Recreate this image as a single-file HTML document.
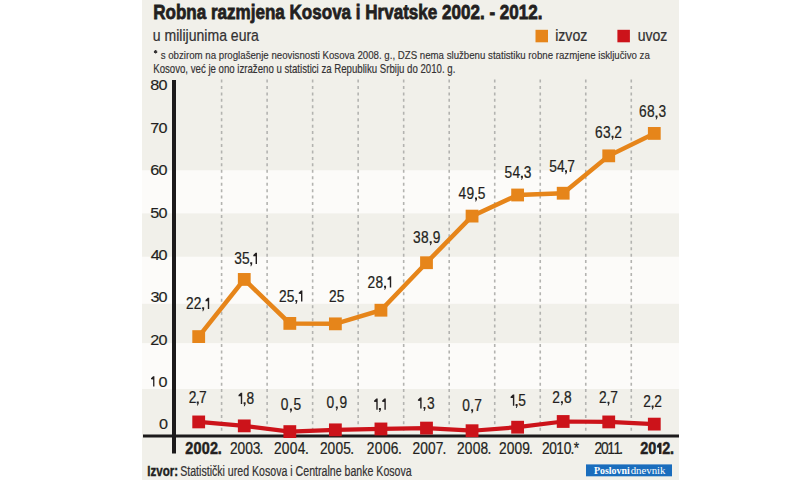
<!DOCTYPE html>
<html><head><meta charset="utf-8"><style>
html,body{margin:0;padding:0;background:#fff;width:800px;height:480px;overflow:hidden}
svg{display:block}
</style></head><body>
<svg width="800" height="480" viewBox="0 0 800 480">
<rect x="142" y="0" width="537" height="480" fill="#f1f0ea"/>
<rect x="142" y="170.3" width="537" height="43.1" fill="#fcfbf9"/>
<rect x="142" y="256.7" width="537" height="47.1" fill="#fcfbf9"/>
<rect x="142" y="343.1" width="537" height="45.9" fill="#fcfbf9"/>
<line x1="221.60" y1="79.5" x2="221.60" y2="434" stroke="#b3b3b0" stroke-width="1.6" stroke-dasharray="3 3.45"/>
<line x1="267.12" y1="79.5" x2="267.12" y2="434" stroke="#b3b3b0" stroke-width="1.6" stroke-dasharray="3 3.45"/>
<line x1="312.64" y1="79.5" x2="312.64" y2="434" stroke="#b3b3b0" stroke-width="1.6" stroke-dasharray="3 3.45"/>
<line x1="358.16" y1="79.5" x2="358.16" y2="434" stroke="#b3b3b0" stroke-width="1.6" stroke-dasharray="3 3.45"/>
<line x1="403.68" y1="79.5" x2="403.68" y2="434" stroke="#b3b3b0" stroke-width="1.6" stroke-dasharray="3 3.45"/>
<line x1="449.20" y1="79.5" x2="449.20" y2="434" stroke="#b3b3b0" stroke-width="1.6" stroke-dasharray="3 3.45"/>
<line x1="494.72" y1="79.5" x2="494.72" y2="434" stroke="#b3b3b0" stroke-width="1.6" stroke-dasharray="3 3.45"/>
<line x1="540.24" y1="79.5" x2="540.24" y2="434" stroke="#b3b3b0" stroke-width="1.6" stroke-dasharray="3 3.45"/>
<line x1="585.76" y1="79.5" x2="585.76" y2="434" stroke="#b3b3b0" stroke-width="1.6" stroke-dasharray="3 3.45"/>
<line x1="631.28" y1="79.5" x2="631.28" y2="434" stroke="#b3b3b0" stroke-width="1.6" stroke-dasharray="3 3.45"/>
<rect x="143" y="434.5" width="536" height="3" fill="#1c1a1b"/>
<rect x="172" y="80" width="4" height="373.5" fill="#1c1a1b"/>
<polyline points="198.70,336.60 244.26,279.43 289.82,323.41 335.38,323.85 380.94,310.22 426.50,262.72 472.06,216.10 517.62,194.99 563.18,193.23 608.74,155.85 654.30,133.42" fill="none" stroke="#e6851a" stroke-width="4.5" stroke-linejoin="miter"/>
<rect x="192.30" y="330.20" width="12.8" height="12.8" fill="#e6851a"/>
<rect x="237.86" y="273.03" width="12.8" height="12.8" fill="#e6851a"/>
<rect x="283.42" y="317.01" width="12.8" height="12.8" fill="#e6851a"/>
<rect x="328.98" y="317.45" width="12.8" height="12.8" fill="#e6851a"/>
<rect x="374.54" y="303.82" width="12.8" height="12.8" fill="#e6851a"/>
<rect x="420.10" y="256.32" width="12.8" height="12.8" fill="#e6851a"/>
<rect x="465.66" y="209.70" width="12.8" height="12.8" fill="#e6851a"/>
<rect x="511.22" y="188.59" width="12.8" height="12.8" fill="#e6851a"/>
<rect x="556.78" y="186.83" width="12.8" height="12.8" fill="#e6851a"/>
<rect x="602.34" y="149.45" width="12.8" height="12.8" fill="#e6851a"/>
<rect x="647.90" y="127.02" width="12.8" height="12.8" fill="#e6851a"/>
<polyline points="198.70,421.93 244.26,425.88 289.82,431.60 335.38,429.84 380.94,428.96 426.50,428.08 472.06,430.72 517.62,427.20 563.18,421.49 608.74,421.93 654.30,424.12" fill="none" stroke="#cc131a" stroke-width="4.2" stroke-linejoin="miter"/>
<rect x="192.30" y="415.53" width="12.8" height="12.8" fill="#cc131a"/>
<rect x="237.86" y="419.48" width="12.8" height="12.8" fill="#cc131a"/>
<rect x="283.42" y="425.20" width="12.8" height="12.8" fill="#cc131a"/>
<rect x="328.98" y="423.44" width="12.8" height="12.8" fill="#cc131a"/>
<rect x="374.54" y="422.56" width="12.8" height="12.8" fill="#cc131a"/>
<rect x="420.10" y="421.68" width="12.8" height="12.8" fill="#cc131a"/>
<rect x="465.66" y="424.32" width="12.8" height="12.8" fill="#cc131a"/>
<rect x="511.22" y="420.80" width="12.8" height="12.8" fill="#cc131a"/>
<rect x="556.78" y="415.09" width="12.8" height="12.8" fill="#cc131a"/>
<rect x="602.34" y="415.53" width="12.8" height="12.8" fill="#cc131a"/>
<rect x="647.90" y="417.72" width="12.8" height="12.8" fill="#cc131a"/>
<rect x="535.5" y="29.8" width="12.5" height="12.5" fill="#e6851a"/>
<rect x="617.4" y="29.8" width="12.5" height="12.5" fill="#cc131a"/>
<rect x="586" y="464.4" width="86" height="11.9" fill="#1a6dbd"/>
<text transform="translate(153.18,18.80) scale(0.8113,1)" font-size="21.01" font-weight="700" font-family='"Liberation Sans", sans-serif' fill="#231f20" stroke="#231f20" stroke-width="0.80">Robna razmjena Kosova i Hrvatske 2002. - 2012.</text>
<text transform="translate(152.86,40.70) scale(0.8988,1)" font-size="15.62" font-weight="400" font-family='"Liberation Sans", sans-serif' fill="#333132" stroke="#333132" stroke-width="0.22">u milijunima eura</text>
<text transform="translate(160.71,59.00) scale(0.8324,1)" font-size="11.64" font-weight="400" font-family='"Liberation Sans", sans-serif' fill="#333132" stroke="#333132" stroke-width="0.16">s obzirom na proglašenje neovisnosti Kosova 2008. g., DZS nema službenu statistiku robne razmjene isključivo za</text>
<text transform="translate(153.23,73.00) scale(0.7836,1)" font-size="12.32" font-weight="400" font-family='"Liberation Sans", sans-serif' fill="#333132" stroke="#333132" stroke-width="0.17">Kosovo, već je ono izraženo u statistici za Republiku Srbiju do 2010. g.</text>
<text transform="translate(555.15,40.90) scale(0.8878,1)" font-size="15.93" font-weight="400" font-family='"Liberation Sans", sans-serif' fill="#333132" stroke="#333132" stroke-width="0.22">izvoz</text>
<text transform="translate(637.66,40.90) scale(0.8831,1)" font-size="15.93" font-weight="400" font-family='"Liberation Sans", sans-serif' fill="#333132" stroke="#333132" stroke-width="0.22">uvoz</text>
<text transform="translate(150.35,90.30) scale(1.1000,1)" font-size="14.71" font-weight="400" font-family='"Liberation Sans", sans-serif' fill="#231f20" stroke="#231f20" stroke-width="0.15">8</text>
<text transform="translate(158.48,90.30) scale(1.1000,1)" font-size="14.71" font-weight="400" font-family='"Liberation Sans", sans-serif' fill="#231f20" stroke="#231f20" stroke-width="0.15">0</text>
<text transform="translate(150.19,132.80) scale(1.1000,1)" font-size="14.71" font-weight="400" font-family='"Liberation Sans", sans-serif' fill="#231f20" stroke="#231f20" stroke-width="0.15">7</text>
<text transform="translate(158.48,132.80) scale(1.1000,1)" font-size="14.71" font-weight="400" font-family='"Liberation Sans", sans-serif' fill="#231f20" stroke="#231f20" stroke-width="0.15">0</text>
<text transform="translate(150.19,175.20) scale(1.1000,1)" font-size="14.71" font-weight="400" font-family='"Liberation Sans", sans-serif' fill="#231f20" stroke="#231f20" stroke-width="0.15">6</text>
<text transform="translate(158.48,175.20) scale(1.1000,1)" font-size="14.71" font-weight="400" font-family='"Liberation Sans", sans-serif' fill="#231f20" stroke="#231f20" stroke-width="0.15">0</text>
<text transform="translate(150.35,217.50) scale(1.1000,1)" font-size="14.71" font-weight="400" font-family='"Liberation Sans", sans-serif' fill="#231f20" stroke="#231f20" stroke-width="0.15">5</text>
<text transform="translate(158.48,217.50) scale(1.1000,1)" font-size="14.71" font-weight="400" font-family='"Liberation Sans", sans-serif' fill="#231f20" stroke="#231f20" stroke-width="0.15">0</text>
<text transform="translate(150.68,259.90) scale(1.1000,1)" font-size="14.71" font-weight="400" font-family='"Liberation Sans", sans-serif' fill="#231f20" stroke="#231f20" stroke-width="0.15">4</text>
<text transform="translate(158.48,259.90) scale(1.1000,1)" font-size="14.71" font-weight="400" font-family='"Liberation Sans", sans-serif' fill="#231f20" stroke="#231f20" stroke-width="0.15">0</text>
<text transform="translate(150.51,302.20) scale(1.1000,1)" font-size="14.71" font-weight="400" font-family='"Liberation Sans", sans-serif' fill="#231f20" stroke="#231f20" stroke-width="0.15">3</text>
<text transform="translate(158.48,302.20) scale(1.1000,1)" font-size="14.71" font-weight="400" font-family='"Liberation Sans", sans-serif' fill="#231f20" stroke="#231f20" stroke-width="0.15">0</text>
<text transform="translate(150.19,344.70) scale(1.1000,1)" font-size="14.71" font-weight="400" font-family='"Liberation Sans", sans-serif' fill="#231f20" stroke="#231f20" stroke-width="0.15">2</text>
<text transform="translate(158.48,344.70) scale(1.1000,1)" font-size="14.71" font-weight="400" font-family='"Liberation Sans", sans-serif' fill="#231f20" stroke="#231f20" stroke-width="0.15">0</text>
<path d="M153.11,376.25L154.40,376.25L154.40,386.55L153.11,386.55L153.11,379.47L151.00,379.34L151.00,378.31Z" fill="#231f20"/>
<text transform="translate(158.48,386.55) scale(1.1000,1)" font-size="14.71" font-weight="400" font-family='"Liberation Sans", sans-serif' fill="#231f20" stroke="#231f20" stroke-width="0.15">0</text>
<text transform="translate(158.91,429.05) scale(1.1000,1)" font-size="14.71" font-weight="400" font-family='"Liberation Sans", sans-serif' fill="#231f20" stroke="#231f20" stroke-width="0.15">0</text>
<text transform="translate(186.11,309.00) scale(0.8600,1)" font-size="16.00" font-weight="400" font-family='"Liberation Sans", sans-serif' fill="#231f20" stroke="#231f20" stroke-width="0.22">2</text>
<text transform="translate(193.79,309.00) scale(0.8600,1)" font-size="16.00" font-weight="400" font-family='"Liberation Sans", sans-serif' fill="#231f20" stroke="#231f20" stroke-width="0.22">2</text>
<path d="M202.16,307.30L204.16,307.30L204.16,309.20L203.16,311.30L202.36,311.30L202.96,309.20L202.16,309.20Z" fill="#231f20"/>
<path d="M207.80,297.80L209.20,297.80L209.20,309.00L207.80,309.00L207.80,301.30L205.50,301.16L205.50,300.04Z" fill="#231f20"/>
<text transform="translate(234.19,264.00) scale(0.8600,1)" font-size="16.00" font-weight="400" font-family='"Liberation Sans", sans-serif' fill="#231f20" stroke="#231f20" stroke-width="0.22">3</text>
<text transform="translate(241.91,264.00) scale(0.8600,1)" font-size="16.00" font-weight="400" font-family='"Liberation Sans", sans-serif' fill="#231f20" stroke="#231f20" stroke-width="0.22">5</text>
<path d="M250.19,262.30L252.19,262.30L252.19,264.20L251.19,266.30L250.39,266.30L250.99,264.20L250.19,264.20Z" fill="#231f20"/>
<path d="M255.60,252.80L257.00,252.80L257.00,264.00L255.60,264.00L255.60,256.30L253.30,256.16L253.30,255.04Z" fill="#231f20"/>
<text transform="translate(278.91,301.60) scale(0.8600,1)" font-size="16.00" font-weight="400" font-family='"Liberation Sans", sans-serif' fill="#231f20" stroke="#231f20" stroke-width="0.22">2</text>
<text transform="translate(286.77,301.60) scale(0.8600,1)" font-size="16.00" font-weight="400" font-family='"Liberation Sans", sans-serif' fill="#231f20" stroke="#231f20" stroke-width="0.22">5</text>
<path d="M295.31,299.90L297.31,299.90L297.31,301.80L296.31,303.90L295.51,303.90L296.11,301.80L295.31,301.80Z" fill="#231f20"/>
<path d="M301.00,290.40L302.40,290.40L302.40,301.60L301.00,301.60L301.00,293.90L298.70,293.76L298.70,292.64Z" fill="#231f20"/>
<text transform="translate(329.11,302.00) scale(0.8600,1)" font-size="16.00" font-weight="400" font-family='"Liberation Sans", sans-serif' fill="#231f20" stroke="#231f20" stroke-width="0.22">2</text>
<text transform="translate(336.84,302.00) scale(0.8600,1)" font-size="16.00" font-weight="400" font-family='"Liberation Sans", sans-serif' fill="#231f20" stroke="#231f20" stroke-width="0.22">5</text>
<text transform="translate(367.51,287.50) scale(0.8600,1)" font-size="16.00" font-weight="400" font-family='"Liberation Sans", sans-serif' fill="#231f20" stroke="#231f20" stroke-width="0.22">2</text>
<text transform="translate(375.44,287.50) scale(0.8600,1)" font-size="16.00" font-weight="400" font-family='"Liberation Sans", sans-serif' fill="#231f20" stroke="#231f20" stroke-width="0.22">8</text>
<path d="M384.05,285.80L386.05,285.80L386.05,287.70L385.05,289.80L384.25,289.80L384.85,287.70L384.05,287.70Z" fill="#231f20"/>
<path d="M389.80,276.30L391.20,276.30L391.20,287.50L389.80,287.50L389.80,279.80L387.50,279.66L387.50,278.54Z" fill="#231f20"/>
<text transform="translate(412.89,243.00) scale(0.8600,1)" font-size="16.00" font-weight="400" font-family='"Liberation Sans", sans-serif' fill="#231f20" stroke="#231f20" stroke-width="0.22">3</text>
<text transform="translate(421.02,243.00) scale(0.8600,1)" font-size="16.00" font-weight="400" font-family='"Liberation Sans", sans-serif' fill="#231f20" stroke="#231f20" stroke-width="0.22">8</text>
<path d="M429.70,241.30L431.70,241.30L431.70,243.20L430.70,245.30L429.90,245.30L430.50,243.20L429.70,243.20Z" fill="#231f20"/>
<text transform="translate(432.68,243.00) scale(0.8600,1)" font-size="16.00" font-weight="400" font-family='"Liberation Sans", sans-serif' fill="#231f20" stroke="#231f20" stroke-width="0.22">9</text>
<text transform="translate(458.42,199.20) scale(0.8600,1)" font-size="16.00" font-weight="400" font-family='"Liberation Sans", sans-serif' fill="#231f20" stroke="#231f20" stroke-width="0.22">4</text>
<text transform="translate(466.57,199.20) scale(0.8600,1)" font-size="16.00" font-weight="400" font-family='"Liberation Sans", sans-serif' fill="#231f20" stroke="#231f20" stroke-width="0.22">9</text>
<path d="M474.99,197.50L476.99,197.50L476.99,199.40L475.99,201.50L475.19,201.50L475.79,199.40L474.99,199.40Z" fill="#231f20"/>
<text transform="translate(477.84,199.20) scale(0.8600,1)" font-size="16.00" font-weight="400" font-family='"Liberation Sans", sans-serif' fill="#231f20" stroke="#231f20" stroke-width="0.22">5</text>
<text transform="translate(504.45,177.50) scale(0.8600,1)" font-size="16.00" font-weight="400" font-family='"Liberation Sans", sans-serif' fill="#231f20" stroke="#231f20" stroke-width="0.22">5</text>
<text transform="translate(512.47,177.50) scale(0.8600,1)" font-size="16.00" font-weight="400" font-family='"Liberation Sans", sans-serif' fill="#231f20" stroke="#231f20" stroke-width="0.22">4</text>
<path d="M520.91,175.80L522.91,175.80L522.91,177.70L521.91,179.80L521.11,179.80L521.71,177.70L520.91,177.70Z" fill="#231f20"/>
<text transform="translate(523.64,177.50) scale(0.8600,1)" font-size="16.00" font-weight="400" font-family='"Liberation Sans", sans-serif' fill="#231f20" stroke="#231f20" stroke-width="0.22">3</text>
<text transform="translate(549.15,172.00) scale(0.8600,1)" font-size="16.00" font-weight="400" font-family='"Liberation Sans", sans-serif' fill="#231f20" stroke="#231f20" stroke-width="0.22">5</text>
<text transform="translate(556.88,172.00) scale(0.8600,1)" font-size="16.00" font-weight="400" font-family='"Liberation Sans", sans-serif' fill="#231f20" stroke="#231f20" stroke-width="0.22">4</text>
<path d="M565.02,170.30L567.02,170.30L567.02,172.20L566.02,174.30L565.22,174.30L565.82,172.20L565.02,172.20Z" fill="#231f20"/>
<text transform="translate(567.18,172.00) scale(0.8600,1)" font-size="16.00" font-weight="400" font-family='"Liberation Sans", sans-serif' fill="#231f20" stroke="#231f20" stroke-width="0.22">7</text>
<text transform="translate(594.91,137.50) scale(0.8600,1)" font-size="16.00" font-weight="400" font-family='"Liberation Sans", sans-serif' fill="#231f20" stroke="#231f20" stroke-width="0.22">6</text>
<text transform="translate(603.02,137.50) scale(0.8600,1)" font-size="16.00" font-weight="400" font-family='"Liberation Sans", sans-serif' fill="#231f20" stroke="#231f20" stroke-width="0.22">3</text>
<path d="M611.55,135.80L613.55,135.80L613.55,137.70L612.55,139.80L611.75,139.80L612.35,137.70L611.55,137.70Z" fill="#231f20"/>
<text transform="translate(614.23,137.50) scale(0.8600,1)" font-size="16.00" font-weight="400" font-family='"Liberation Sans", sans-serif' fill="#231f20" stroke="#231f20" stroke-width="0.22">2</text>
<text transform="translate(639.06,117.25) scale(0.8600,1)" font-size="16.00" font-weight="400" font-family='"Liberation Sans", sans-serif' fill="#231f20" stroke="#231f20" stroke-width="0.22">6</text>
<text transform="translate(647.01,117.25) scale(0.8600,1)" font-size="16.00" font-weight="400" font-family='"Liberation Sans", sans-serif' fill="#231f20" stroke="#231f20" stroke-width="0.22">8</text>
<path d="M655.51,115.55L657.51,115.55L657.51,117.45L656.51,119.55L655.71,119.55L656.31,117.45L655.51,117.45Z" fill="#231f20"/>
<text transform="translate(658.44,117.25) scale(0.8600,1)" font-size="16.00" font-weight="400" font-family='"Liberation Sans", sans-serif' fill="#231f20" stroke="#231f20" stroke-width="0.22">3</text>
<text transform="translate(188.71,403.30) scale(0.8600,1)" font-size="16.00" font-weight="400" font-family='"Liberation Sans", sans-serif' fill="#231f20" stroke="#231f20" stroke-width="0.22">2</text>
<path d="M196.75,401.60L198.75,401.60L198.75,403.50L197.75,405.60L196.95,405.60L197.55,403.50L196.75,403.50Z" fill="#231f20"/>
<text transform="translate(199.08,403.30) scale(0.8600,1)" font-size="16.00" font-weight="400" font-family='"Liberation Sans", sans-serif' fill="#231f20" stroke="#231f20" stroke-width="0.22">7</text>
<path d="M240.80,392.80L242.20,392.80L242.20,404.00L240.80,404.00L240.80,396.30L238.50,396.16L238.50,395.04Z" fill="#231f20"/>
<path d="M243.60,402.30L245.60,402.30L245.60,404.20L244.60,406.30L243.80,406.30L244.40,404.20L243.60,404.20Z" fill="#231f20"/>
<text transform="translate(246.44,404.00) scale(0.8600,1)" font-size="16.00" font-weight="400" font-family='"Liberation Sans", sans-serif' fill="#231f20" stroke="#231f20" stroke-width="0.22">8</text>
<text transform="translate(280.69,410.20) scale(0.8600,1)" font-size="16.00" font-weight="400" font-family='"Liberation Sans", sans-serif' fill="#231f20" stroke="#231f20" stroke-width="0.22">0</text>
<path d="M289.92,408.50L291.92,408.50L291.92,410.40L290.92,412.50L290.12,412.50L290.72,410.40L289.92,410.40Z" fill="#231f20"/>
<text transform="translate(293.44,410.20) scale(0.8600,1)" font-size="16.00" font-weight="400" font-family='"Liberation Sans", sans-serif' fill="#231f20" stroke="#231f20" stroke-width="0.22">5</text>
<text transform="translate(326.49,408.10) scale(0.8600,1)" font-size="16.00" font-weight="400" font-family='"Liberation Sans", sans-serif' fill="#231f20" stroke="#231f20" stroke-width="0.22">0</text>
<path d="M335.79,406.40L337.79,406.40L337.79,408.30L336.79,410.40L335.99,410.40L336.59,408.30L335.79,408.30Z" fill="#231f20"/>
<text transform="translate(339.38,408.10) scale(0.8600,1)" font-size="16.00" font-weight="400" font-family='"Liberation Sans", sans-serif' fill="#231f20" stroke="#231f20" stroke-width="0.22">9</text>
<path d="M376.30,398.50L377.70,398.50L377.70,409.70L376.30,409.70L376.30,402.00L374.00,401.86L374.00,400.74Z" fill="#231f20"/>
<path d="M378.90,408.00L380.90,408.00L380.90,409.90L379.90,412.00L379.10,412.00L379.70,409.90L378.90,409.90Z" fill="#231f20"/>
<path d="M384.40,398.50L385.80,398.50L385.80,409.70L384.40,409.70L384.40,402.00L382.10,401.86L382.10,400.74Z" fill="#231f20"/>
<path d="M420.20,397.40L421.60,397.40L421.60,408.60L420.20,408.60L420.20,400.90L417.90,400.76L417.90,399.64Z" fill="#231f20"/>
<path d="M423.48,406.90L425.48,406.90L425.48,408.80L424.48,410.90L423.68,410.90L424.28,408.80L423.48,408.80Z" fill="#231f20"/>
<text transform="translate(426.94,408.60) scale(0.8600,1)" font-size="16.00" font-weight="400" font-family='"Liberation Sans", sans-serif' fill="#231f20" stroke="#231f20" stroke-width="0.22">3</text>
<text transform="translate(462.19,411.00) scale(0.8600,1)" font-size="16.00" font-weight="400" font-family='"Liberation Sans", sans-serif' fill="#231f20" stroke="#231f20" stroke-width="0.22">0</text>
<path d="M471.16,409.30L473.16,409.30L473.16,411.20L472.16,413.30L471.36,413.30L471.96,411.20L471.16,411.20Z" fill="#231f20"/>
<text transform="translate(474.28,411.00) scale(0.8600,1)" font-size="16.00" font-weight="400" font-family='"Liberation Sans", sans-serif' fill="#231f20" stroke="#231f20" stroke-width="0.22">7</text>
<path d="M512.90,394.60L514.30,394.60L514.30,405.80L512.90,405.80L512.90,398.10L510.60,397.96L510.60,396.84Z" fill="#231f20"/>
<path d="M515.60,404.10L517.60,404.10L517.60,406.00L516.60,408.10L515.80,408.10L516.40,406.00L515.60,406.00Z" fill="#231f20"/>
<text transform="translate(518.34,405.80) scale(0.8600,1)" font-size="16.00" font-weight="400" font-family='"Liberation Sans", sans-serif' fill="#231f20" stroke="#231f20" stroke-width="0.22">5</text>
<text transform="translate(552.21,402.90) scale(0.8600,1)" font-size="16.00" font-weight="400" font-family='"Liberation Sans", sans-serif' fill="#231f20" stroke="#231f20" stroke-width="0.22">2</text>
<path d="M560.94,401.20L562.94,401.20L562.94,403.10L561.94,405.20L561.14,405.20L561.74,403.10L560.94,403.10Z" fill="#231f20"/>
<text transform="translate(564.09,402.90) scale(0.8600,1)" font-size="16.00" font-weight="400" font-family='"Liberation Sans", sans-serif' fill="#231f20" stroke="#231f20" stroke-width="0.22">8</text>
<text transform="translate(599.06,403.40) scale(0.8600,1)" font-size="16.00" font-weight="400" font-family='"Liberation Sans", sans-serif' fill="#231f20" stroke="#231f20" stroke-width="0.22">2</text>
<path d="M607.48,401.70L609.48,401.70L609.48,403.60L608.48,405.70L607.68,405.70L608.27,403.60L607.48,403.60Z" fill="#231f20"/>
<text transform="translate(610.18,403.40) scale(0.8600,1)" font-size="16.00" font-weight="400" font-family='"Liberation Sans", sans-serif' fill="#231f20" stroke="#231f20" stroke-width="0.22">7</text>
<text transform="translate(643.31,407.20) scale(0.8600,1)" font-size="16.00" font-weight="400" font-family='"Liberation Sans", sans-serif' fill="#231f20" stroke="#231f20" stroke-width="0.22">2</text>
<path d="M651.62,405.50L653.62,405.50L653.62,407.40L652.62,409.50L651.83,409.50L652.42,407.40L651.62,407.40Z" fill="#231f20"/>
<text transform="translate(654.23,407.20) scale(0.8600,1)" font-size="16.00" font-weight="400" font-family='"Liberation Sans", sans-serif' fill="#231f20" stroke="#231f20" stroke-width="0.22">2</text>
<text transform="translate(185.27,454.00) scale(0.9000,1)" font-size="16.00" font-weight="700" font-family='"Liberation Sans", sans-serif' fill="#231f20" stroke="#231f20" stroke-width="0.50">2</text>
<text transform="translate(193.48,454.00) scale(0.9000,1)" font-size="16.00" font-weight="700" font-family='"Liberation Sans", sans-serif' fill="#231f20" stroke="#231f20" stroke-width="0.50">0</text>
<text transform="translate(201.69,454.00) scale(0.9000,1)" font-size="16.00" font-weight="700" font-family='"Liberation Sans", sans-serif' fill="#231f20" stroke="#231f20" stroke-width="0.50">0</text>
<text transform="translate(209.90,454.00) scale(0.9000,1)" font-size="16.00" font-weight="700" font-family='"Liberation Sans", sans-serif' fill="#231f20" stroke="#231f20" stroke-width="0.50">2</text>
<text transform="translate(217.68,454.00) scale(0.9000,1)" font-size="16.00" font-weight="700" font-family='"Liberation Sans", sans-serif' fill="#231f20" stroke="#231f20" stroke-width="0.50">.</text>
<text transform="translate(230.01,454.00) scale(0.8600,1)" font-size="16.00" font-weight="400" font-family='"Liberation Sans", sans-serif' fill="#231f20" stroke="#231f20" stroke-width="0.22">2</text>
<text transform="translate(237.51,454.00) scale(0.8600,1)" font-size="16.00" font-weight="400" font-family='"Liberation Sans", sans-serif' fill="#231f20" stroke="#231f20" stroke-width="0.22">0</text>
<text transform="translate(245.14,454.00) scale(0.8600,1)" font-size="16.00" font-weight="400" font-family='"Liberation Sans", sans-serif' fill="#231f20" stroke="#231f20" stroke-width="0.22">0</text>
<text transform="translate(252.78,454.00) scale(0.8600,1)" font-size="16.00" font-weight="400" font-family='"Liberation Sans", sans-serif' fill="#231f20" stroke="#231f20" stroke-width="0.22">3</text>
<text transform="translate(259.59,454.00) scale(0.8600,1)" font-size="16.00" font-weight="400" font-family='"Liberation Sans", sans-serif' fill="#231f20" stroke="#231f20" stroke-width="0.22">.</text>
<text transform="translate(274.01,454.00) scale(0.8600,1)" font-size="16.00" font-weight="400" font-family='"Liberation Sans", sans-serif' fill="#231f20" stroke="#231f20" stroke-width="0.22">2</text>
<text transform="translate(281.76,454.00) scale(0.8600,1)" font-size="16.00" font-weight="400" font-family='"Liberation Sans", sans-serif' fill="#231f20" stroke="#231f20" stroke-width="0.22">0</text>
<text transform="translate(289.66,454.00) scale(0.8600,1)" font-size="16.00" font-weight="400" font-family='"Liberation Sans", sans-serif' fill="#231f20" stroke="#231f20" stroke-width="0.22">0</text>
<text transform="translate(297.68,454.00) scale(0.8600,1)" font-size="16.00" font-weight="400" font-family='"Liberation Sans", sans-serif' fill="#231f20" stroke="#231f20" stroke-width="0.22">4</text>
<text transform="translate(304.89,454.00) scale(0.8600,1)" font-size="16.00" font-weight="400" font-family='"Liberation Sans", sans-serif' fill="#231f20" stroke="#231f20" stroke-width="0.22">.</text>
<text transform="translate(319.91,454.00) scale(0.8600,1)" font-size="16.00" font-weight="400" font-family='"Liberation Sans", sans-serif' fill="#231f20" stroke="#231f20" stroke-width="0.22">2</text>
<text transform="translate(327.62,454.00) scale(0.8600,1)" font-size="16.00" font-weight="400" font-family='"Liberation Sans", sans-serif' fill="#231f20" stroke="#231f20" stroke-width="0.22">0</text>
<text transform="translate(335.46,454.00) scale(0.8600,1)" font-size="16.00" font-weight="400" font-family='"Liberation Sans", sans-serif' fill="#231f20" stroke="#231f20" stroke-width="0.22">0</text>
<text transform="translate(343.17,454.00) scale(0.8600,1)" font-size="16.00" font-weight="400" font-family='"Liberation Sans", sans-serif' fill="#231f20" stroke="#231f20" stroke-width="0.22">5</text>
<text transform="translate(350.19,454.00) scale(0.8600,1)" font-size="16.00" font-weight="400" font-family='"Liberation Sans", sans-serif' fill="#231f20" stroke="#231f20" stroke-width="0.22">.</text>
<text transform="translate(366.81,454.00) scale(0.8600,1)" font-size="16.00" font-weight="400" font-family='"Liberation Sans", sans-serif' fill="#231f20" stroke="#231f20" stroke-width="0.22">2</text>
<text transform="translate(374.78,454.00) scale(0.8600,1)" font-size="16.00" font-weight="400" font-family='"Liberation Sans", sans-serif' fill="#231f20" stroke="#231f20" stroke-width="0.22">0</text>
<text transform="translate(382.88,454.00) scale(0.8600,1)" font-size="16.00" font-weight="400" font-family='"Liberation Sans", sans-serif' fill="#231f20" stroke="#231f20" stroke-width="0.22">0</text>
<text transform="translate(390.71,454.00) scale(0.8600,1)" font-size="16.00" font-weight="400" font-family='"Liberation Sans", sans-serif' fill="#231f20" stroke="#231f20" stroke-width="0.22">6</text>
<text transform="translate(397.99,454.00) scale(0.8600,1)" font-size="16.00" font-weight="400" font-family='"Liberation Sans", sans-serif' fill="#231f20" stroke="#231f20" stroke-width="0.22">.</text>
<text transform="translate(412.41,454.00) scale(0.8600,1)" font-size="16.00" font-weight="400" font-family='"Liberation Sans", sans-serif' fill="#231f20" stroke="#231f20" stroke-width="0.22">2</text>
<text transform="translate(420.16,454.00) scale(0.8600,1)" font-size="16.00" font-weight="400" font-family='"Liberation Sans", sans-serif' fill="#231f20" stroke="#231f20" stroke-width="0.22">0</text>
<text transform="translate(428.05,454.00) scale(0.8600,1)" font-size="16.00" font-weight="400" font-family='"Liberation Sans", sans-serif' fill="#231f20" stroke="#231f20" stroke-width="0.22">0</text>
<text transform="translate(435.66,454.00) scale(0.8600,1)" font-size="16.00" font-weight="400" font-family='"Liberation Sans", sans-serif' fill="#231f20" stroke="#231f20" stroke-width="0.22">7</text>
<text transform="translate(442.59,454.00) scale(0.8600,1)" font-size="16.00" font-weight="400" font-family='"Liberation Sans", sans-serif' fill="#231f20" stroke="#231f20" stroke-width="0.22">.</text>
<text transform="translate(457.11,454.00) scale(0.8600,1)" font-size="16.00" font-weight="400" font-family='"Liberation Sans", sans-serif' fill="#231f20" stroke="#231f20" stroke-width="0.22">2</text>
<text transform="translate(464.84,454.00) scale(0.8600,1)" font-size="16.00" font-weight="400" font-family='"Liberation Sans", sans-serif' fill="#231f20" stroke="#231f20" stroke-width="0.22">0</text>
<text transform="translate(472.71,454.00) scale(0.8600,1)" font-size="16.00" font-weight="400" font-family='"Liberation Sans", sans-serif' fill="#231f20" stroke="#231f20" stroke-width="0.22">0</text>
<text transform="translate(480.44,454.00) scale(0.8600,1)" font-size="16.00" font-weight="400" font-family='"Liberation Sans", sans-serif' fill="#231f20" stroke="#231f20" stroke-width="0.22">8</text>
<text transform="translate(487.49,454.00) scale(0.8600,1)" font-size="16.00" font-weight="400" font-family='"Liberation Sans", sans-serif' fill="#231f20" stroke="#231f20" stroke-width="0.22">.</text>
<text transform="translate(499.11,454.00) scale(0.8600,1)" font-size="16.00" font-weight="400" font-family='"Liberation Sans", sans-serif' fill="#231f20" stroke="#231f20" stroke-width="0.22">2</text>
<text transform="translate(506.75,454.00) scale(0.8600,1)" font-size="16.00" font-weight="400" font-family='"Liberation Sans", sans-serif' fill="#231f20" stroke="#231f20" stroke-width="0.22">0</text>
<text transform="translate(514.53,454.00) scale(0.8600,1)" font-size="16.00" font-weight="400" font-family='"Liberation Sans", sans-serif' fill="#231f20" stroke="#231f20" stroke-width="0.22">0</text>
<text transform="translate(522.17,454.00) scale(0.8600,1)" font-size="16.00" font-weight="400" font-family='"Liberation Sans", sans-serif' fill="#231f20" stroke="#231f20" stroke-width="0.22">9</text>
<text transform="translate(528.99,454.00) scale(0.8600,1)" font-size="16.00" font-weight="400" font-family='"Liberation Sans", sans-serif' fill="#231f20" stroke="#231f20" stroke-width="0.22">.</text>
<text transform="translate(541.91,454.00) scale(0.8600,1)" font-size="16.00" font-weight="400" font-family='"Liberation Sans", sans-serif' fill="#231f20" stroke="#231f20" stroke-width="0.22">2</text>
<text transform="translate(549.31,454.00) scale(0.8600,1)" font-size="16.00" font-weight="400" font-family='"Liberation Sans", sans-serif' fill="#231f20" stroke="#231f20" stroke-width="0.22">0</text>
<text transform="translate(556.29,454.00) scale(0.8600,1)" font-size="16.00" font-weight="400" font-family='"Liberation Sans", sans-serif' fill="#231f20" stroke="#231f20" stroke-width="0.22">1</text>
<text transform="translate(563.69,454.00) scale(0.8600,1)" font-size="16.00" font-weight="400" font-family='"Liberation Sans", sans-serif' fill="#231f20" stroke="#231f20" stroke-width="0.22">0</text>
<text transform="translate(570.40,454.00) scale(0.8600,1)" font-size="16.00" font-weight="400" font-family='"Liberation Sans", sans-serif' fill="#231f20" stroke="#231f20" stroke-width="0.22">.</text>
<text transform="translate(573.67,454.00) scale(0.8600,1)" font-size="16.00" font-weight="400" font-family='"Liberation Sans", sans-serif' fill="#231f20" stroke="#231f20" stroke-width="0.22">*</text>
<text transform="translate(594.41,454.00) scale(0.8600,1)" font-size="16.00" font-weight="400" font-family='"Liberation Sans", sans-serif' fill="#231f20" stroke="#231f20" stroke-width="0.22">2</text>
<text transform="translate(601.08,454.00) scale(0.8600,1)" font-size="16.00" font-weight="400" font-family='"Liberation Sans", sans-serif' fill="#231f20" stroke="#231f20" stroke-width="0.22">0</text>
<text transform="translate(607.33,454.00) scale(0.8600,1)" font-size="16.00" font-weight="400" font-family='"Liberation Sans", sans-serif' fill="#231f20" stroke="#231f20" stroke-width="0.22">1</text>
<text transform="translate(613.45,454.00) scale(0.8600,1)" font-size="16.00" font-weight="400" font-family='"Liberation Sans", sans-serif' fill="#231f20" stroke="#231f20" stroke-width="0.22">1</text>
<text transform="translate(619.29,454.00) scale(0.8600,1)" font-size="16.00" font-weight="400" font-family='"Liberation Sans", sans-serif' fill="#231f20" stroke="#231f20" stroke-width="0.22">.</text>
<text transform="translate(640.17,454.00) scale(0.9000,1)" font-size="16.00" font-weight="700" font-family='"Liberation Sans", sans-serif' fill="#231f20" stroke="#231f20" stroke-width="0.50">2</text>
<text transform="translate(648.37,454.00) scale(0.9000,1)" font-size="16.00" font-weight="700" font-family='"Liberation Sans", sans-serif' fill="#231f20" stroke="#231f20" stroke-width="0.50">0</text>
<path d="M659.02,442.80L661.49,442.80L661.49,454.00L659.02,454.00L659.02,447.71L657.01,447.46L657.01,445.49Z" fill="#231f20"/>
<text transform="translate(662.20,454.00) scale(0.9000,1)" font-size="16.00" font-weight="700" font-family='"Liberation Sans", sans-serif' fill="#231f20" stroke="#231f20" stroke-width="0.50">2</text>
<text transform="translate(669.98,454.00) scale(0.9000,1)" font-size="16.00" font-weight="700" font-family='"Liberation Sans", sans-serif' fill="#231f20" stroke="#231f20" stroke-width="0.50">.</text>
<text transform="translate(147.31,476.00) scale(0.8075,1)" font-size="14.29" font-weight="700" font-family='"Liberation Sans", sans-serif' fill="#231f20" stroke="#231f20" stroke-width="0.40">Izvor:</text>
<text transform="translate(180.18,476.00) scale(0.7533,1)" font-size="14.08" font-weight="400" font-family='"Liberation Sans", sans-serif' fill="#333132" stroke="#333132" stroke-width="0.20">Statistički ured Kosova i Centralne banke Kosova</text>
<text transform="translate(593.90,473.75) scale(0.9439,1)" font-size="10.54" font-weight="700" font-family='"Liberation Serif", serif' fill="#ffffff">Poslovni</text>
<text transform="translate(630.67,473.75) scale(1.0920,1)" font-size="9.93" font-weight="400" font-family='"Liberation Serif", serif' fill="#ffffff">dnevnik</text>
<path d="M155.6,50.0V53.6M154.0,51.0L157.2,52.6M154.0,52.6L157.2,51.0" stroke="#333132" stroke-width="1.1" fill="none"/>
</svg>
</body></html>
